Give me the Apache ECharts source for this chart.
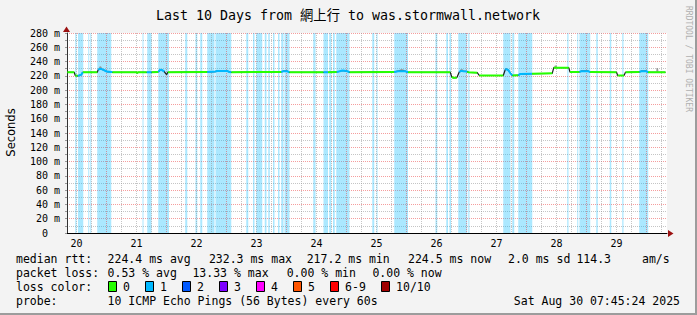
<!DOCTYPE html>
<html><head><meta charset="utf-8">
<script src="https://cdn.jsdelivr.net/npm/echarts@6/dist/echarts.min.js"></script>
<style>html,body{margin:0;padding:0;background:#f3f3f3}#c{width:697px;height:315px}</style>
</head><body><div id="c"></div>
<script>
// ---------------- data ----------------
const titleText = 'Last 10 Days from 網上行 to was.stormwall.network';
const yAxisName = 'Seconds';
const watermark = 'RRDTOOL / TOBI OETIKER';
// time axis: hours since Aug 20 00:00
const timeMin = 8.2, timeMax = 248.2;
const dayLabels = ['20','21','22','23','24','25','26','27','28','29'];
const dayLabelHours = [12,36,60,84,108,132,156,180,204,228];
const yMin = 0, yMax = 280;

// loss background bands (1/10 loss)
const lossBandStart = [11.5,12.6,16.7,17.5,20.3,38.4,40.3,44.7,55.5,59.6,61.5,64.3,67.6,79.9,82.6,83.9,87.3,88.7,90.6,92.6,93.9,95.2,106.7,110.8,113.1,114.6,115.9,130.3,132.0,139.1,155.6,159.9,161.2,164.7,168.7,182.7,186.3,188.7,208.3,212.3,213.2,219.9,225.3,230.3,237.1];
const lossBandEnd   = [12.0,14.7,17.1,17.9,25.9,38.8,42.0,49.0,56.3,60.3,62.3,67.2,73.9,80.7,83.2,86.3,88.0,89.3,91.2,93.2,94.8,97.2,107.6,112.6,113.9,115.3,121.2,131.1,132.4,144.6,156.3,160.6,161.8,168.3,169.2,185.6,187.1,194.3,208.8,212.7,217.5,220.5,225.9,230.8,240.7];

// median rtt (ms); loss code of the segment starting at each point (-1 = dark transition)
const medianTime  = [8.3,11.1,11.5,12.5,13.9,14.5,20.3,20.7,21.5,22.3,23.3,24.1,25.9,26.3,36.1,36.3,36.6,40.1,42.0,44.7,45.5,46.3,47.1,47.7,48.1,48.5,64.3,67.5,68.3,72.3,73.1,73.9,93.9,94.7,96.3,97.1,110.8,112.6,116.1,117.3,118.3,119.5,120.7,121.2,139.1,140.7,143.5,144.6,161.5,162.1,162.7,164.1,165.1,165.9,166.7,168.3,168.7,172.3,173.1,182.7,183.5,183.9,184.7,185.5,186.3,188.7,189.5,194.2,202.3,202.9,208.9,209.4,213.2,213.9,216.7,217.4,228.0,228.5,231.0,231.6,237.2,237.9,239.9,240.6,247.6];
const medianValue = [225,225,220.5,220,221.5,225,225,228.5,230,229,227.5,226,225.5,225,225,223.8,225,225,225,225.5,228.5,228,226,223,222,225,225.5,226,226.8,226.8,225.5,225,225.5,226.5,226.5,225,225,225,225.5,226.5,227.5,227,226,225,225.5,226.5,226.5,225,225,218.5,217.2,217.5,225.5,227,226.5,226,225,224.5,220.5,220.5,228.5,229.5,228,224,220.5,221,222.5,223,223.5,231.5,231.5,225.3,225.5,226.5,226.5,225.3,225,220.5,220.5,225,225.5,226.5,226.5,225,225];
const medianLoss  = [0,-1,0,1,1,0,-1,1,1,1,1,1,1,0,0,0,0,1,0,1,1,1,-1,-1,-1,0,1,1,1,1,1,0,1,1,1,0,1,0,1,1,1,1,1,0,1,1,1,0,-1,0,0,-1,1,1,1,0,0,-1,0,-1,1,1,1,1,0,1,1,0,-1,0,-1,0,1,1,1,0,-1,0,-1,0,1,1,1,0,0];

// smoke (spread of pings), null = gap
const smokeTime  = [21.0,21.5,22.0,null,141.0,142.0,143.0,null,165.5,166.0,166.6,null,203.3,203.6,204.0,null,244.2,244.3,244.5];
const smokeValue = [229.5,232.5,231,null,227,228.5,227.5,null,227.5,228.5,227.5,null,232.5,234,232,null,226,231,226];

const lossColors = ['#26ff00','#00b8ff','#0059ff','#7e00ff','#ff00ff','#ff5500','#ff0000','#a00000'];
const lossLabels = ['0','1','2','3','4','5','6-9','10/10'];
const rttLabel = 'median rtt:';
const rttStats = ['224.4 ms avg','232.3 ms max','217.2 ms min','224.5 ms now','2.0 ms sd','114.3','am/s'];
const lossLabel = 'packet loss:';
const lossStats = ['0.53 % avg','13.33 % max','0.00 % min','0.00 % now'];
const lossColorLabel = 'loss color:';
const probeLabel = 'probe:';
const probeText = '10 ICMP Echo Pings (56 Bytes) every 60s';
const stampText = 'Sat Aug 30 07:45:24 2025';

// ---------------- build ----------------
const MONO = '"DejaVu Sans Mono", "Noto Sans CJK TC", monospace';
const chart = echarts.init(document.getElementById('c'), null, {renderer: 'svg', width: 697, height: 315});

function segs(code) {
  const out = [];
  let last = -2;
  for (let i = 0; i < medianTime.length - 1; i++) {
    if (medianLoss[i] !== code) continue;
    if (last !== i) {
      if (out.length) out.push([(medianTime[i] + medianTime[last]) / 2, null]);
      out.push([medianTime[i], medianValue[i]]);
    }
    out.push([medianTime[i + 1], medianValue[i + 1]]);
    last = i + 1;
  }
  return out;
}
const vGrid = [];
for (let h = 12; h < timeMax; h += 6) vGrid.push(h);

const bandData = lossBandStart.map((s, i) => [{xAxis: s}, {xAxis: lossBandEnd[i]}]);

// layout (texts)
const graphics = [];
function txt(text, x, y, opts) {
  graphics.push(Object.assign({type: 'text', x, y, silent: true,
    style: Object.assign({text, font: '11.5px ' + MONO, fill: '#000', align: 'left', verticalAlign: 'middle'}, opts || {})}));
}
txt(titleText, 348, 15, {font: '13.3px ' + MONO, align: 'center'});
graphics.push({type: 'text', x: 11, y: 132.5, rotation: Math.PI / 2, silent: true,
  style: {text: yAxisName, font: '11.5px "DejaVu Sans", sans-serif', fill: '#000', align: 'center', verticalAlign: 'middle'}});
graphics.push({type: 'text', x: 688.5, y: 59, rotation: -Math.PI / 2, silent: true,
  style: {text: watermark, font: '8px ' + MONO, fill: '#b0b0b0', align: 'center', verticalAlign: 'middle'}});
// legend rows
txt(rttLabel, 16, 259.3);
[107.6, 208.9, 306.7, 408, 508, 576.4, 642].forEach((x, i) => txt(rttStats[i], x, 259.3));
txt(lossLabel, 16, 273.3);
[107.6, 192.4, 286.7, 372.4].forEach((x, i) => txt(lossStats[i], x, 273.3));
txt(lossColorLabel, 16, 286.7);
[108.5, 145.5, 182.5, 219.5, 256.5, 293.5, 330.5, 381.5].forEach((x, i) => {
  graphics.push({type: 'rect', silent: true, shape: {x: x, y: 281.5, width: 8, height: 10},
    style: {fill: lossColors[i], stroke: '#000', lineWidth: 1}});
  txt(lossLabels[i], x + 14.6, 286.7);
});
txt(probeLabel, 16, 301);
txt(probeText, 107.6, 301);
txt(stampText, 680, 301, {align: 'right'});
// axis arrows
graphics.push({type: 'polygon', silent: true, shape: {points: [[66.5, 26.5], [63, 32], [70, 32]]}, style: {fill: '#9b1010'}});
graphics.push({type: 'polygon', silent: true, shape: {points: [[673.5, 233.5], [668, 230], [668, 237]]}, style: {fill: '#9b1010'}});
// frame shading
graphics.push({type: 'rect', silent: true, shape: {x: 695, y: 0, width: 2, height: 315}, style: {fill: '#9c9c9c'}});
graphics.push({type: 'rect', silent: true, shape: {x: 0, y: 313, width: 697, height: 2}, style: {fill: '#9c9c9c'}});

function renderVGrid(params, api) {
  const h = api.value(0);
  const top = api.coord([h, yMax]);
  const bot = api.coord([h, yMin]);
  const x = Math.floor(top[0]) + 0.5;
  return {type: 'line', silent: true,
    shape: {x1: x, y1: top[1], x2: x, y2: bot[1]},
    style: {stroke: h % 24 === 0 ? 'rgba(235,60,60,0.5)' : 'rgba(150,150,150,0.55)', lineWidth: 1, lineDash: [1, 1]}};
}

chart.setOption({
  animation: false,
  backgroundColor: '#f3f3f3',
  grid: {left: 67, top: 33, width: 600, height: 200, show: true, backgroundColor: '#ffffff', borderWidth: 0},
  xAxis: {
    type: 'value', min: timeMin, max: timeMax,
    splitLine: {show: false}, axisTick: {show: false},
    axisLine: {show: true, onZero: false, lineStyle: {color: '#000', width: 1}},
    axisLabel: {customValues: dayLabelHours, showMinLabel: true, showMaxLabel: true,
      formatter: v => { const i = dayLabelHours.indexOf(v); return i >= 0 ? dayLabels[i] : ''; },
      fontFamily: MONO, fontSize: 10, color: '#000', margin: 4, lineHeight: 12}
  },
  yAxis: {
    type: 'value', min: yMin, max: yMax, interval: 10,
    axisLine: {show: true, lineStyle: {color: '#333', width: 1}},
    axisTick: {show: true, length: 2, lineStyle: {color: '#999'}},
    splitLine: {show: true, lineStyle: {type: [1, 1], width: 1, color: ['rgba(235,60,60,0.5)', 'rgba(150,150,150,0.55)']}},
    axisLabel: {formatter: v => v % 20 ? '' : (v === 0 ? '0\u00a0\u00a0' : v + ' m'),
      fontFamily: MONO, fontSize: 10, color: '#000', margin: 7}
  },
  series: [
    {type: 'line', data: [[timeMin, null]], silent: true, z: 1, symbol: 'none',
      markArea: {silent: true, itemStyle: {color: 'rgba(0,184,255,0.33)'}, data: bandData}},
    {type: 'custom', data: vGrid.map(h => [h]), silent: true, z: 2, renderItem: renderVGrid,
      encode: {x: 0}},
    {type: 'line', data: smokeTime.map((t, i) => [t, smokeValue[i]]), silent: true, z: 3, symbol: 'none',
      lineStyle: {color: '#9a9a9a', width: 1.5}},
    {type: 'line', data: medianTime.map((t, i) => [t, medianValue[i]]), silent: true, z: 4, symbol: 'none',
      lineStyle: {color: '#1c1c1c', width: 1.2}},
    {type: 'line', data: segs(0), silent: true, z: 5, symbol: 'none', lineStyle: {color: lossColors[0], width: 2}},
    {type: 'line', data: segs(1), silent: true, z: 5, symbol: 'none', lineStyle: {color: lossColors[1], width: 2}}
  ],
  graphic: {elements: graphics}
});
</script></body></html>
